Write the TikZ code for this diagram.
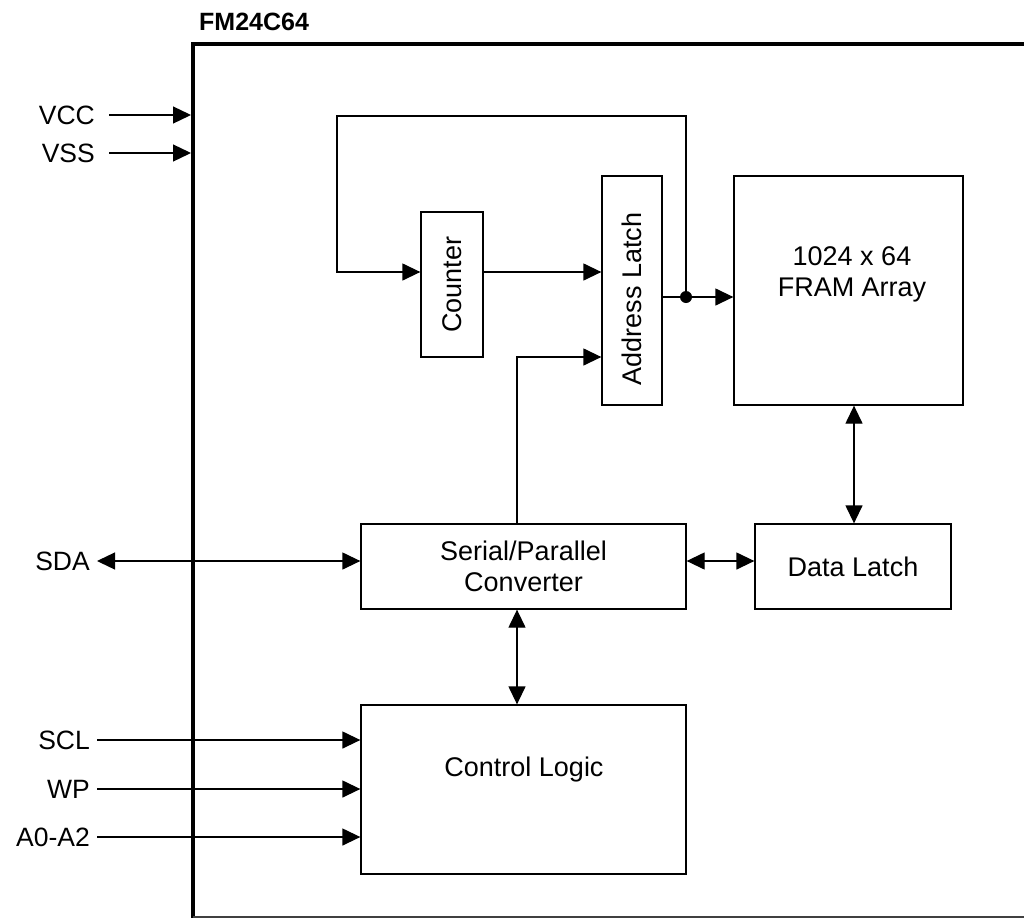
\documentclass[tikz,border=0pt]{standalone}
\usepackage{fontspec}
\setmainfont{Liberation Sans}
\usetikzlibrary{arrows.meta,calc}
\tikzset{
  >={Triangle[length=18pt,width=17pt]},
  blk/.style={draw,line width=1.3pt,inner sep=0pt,font=\fontsize{27}{31}\selectfont,align=center},
  txt/.style={inner sep=0pt,font=\fontsize{27}{31}\selectfont,align=center},
  sig/.style={anchor=east,inner ysep=0pt,inner xsep=7pt,font=\fontsize{26.5}{31}\selectfont},
  wire/.style={line width=1.3pt},
  chipedge/.style={line width=4.2pt}
}

\begin{document}
\begin{tikzpicture}[x=1pt,y=-1pt]
  \useasboundingbox (0,0) rectangle (1024,918);

  % ================= chip outline =================
  \draw[chipedge] (1024,44) -- (193,44) -- (193,918);
  \draw[line width=1.3pt,black!75] (193,917) -- (1024,917);
  \node[txt,anchor=west,font=\fontsize{25}{30}\selectfont\bfseries] (chip) at (199,22) {FM24C64};

  % ================= blocks =================
  \node[blk,minimum width=62pt,minimum height=145pt] (CNT) at (452,284.5) {};
  \node[txt,rotate=90] (CNTtxt) at (CNT) {Counter};
  \node[blk,minimum width=60pt,minimum height=229pt] (AL) at (632,290.5) {};
  \node[txt,rotate=90] (ALtxt) at (632,299) {Address Latch};
  \node[blk,minimum width=229pt,minimum height=229pt] (FRAM) at (848.5,290.5) {};
  \node[txt] (FRAMtxt) at (852,274) {1024 x 64\\FRAM Array};
  \node[blk,minimum width=325pt,minimum height=85pt] (SP) at (523.5,566.5) {Serial/Parallel\\Converter};
  \node[blk,minimum width=196pt,minimum height=85pt] (DL) at (853,566.5) {Data Latch};
  \node[blk,minimum width=325pt,minimum height=169pt] (CL) at (523.5,789.5) {};
  \node[txt] (CLtxt) at (524,770) {Control Logic};

  % ================= pins =================
  \node[sig,inner xsep=14pt] (VCC) at (109,115) {VCC};
  \node[sig,inner xsep=14pt] (VSS) at (109,153) {VSS};
  \coordinate (vccpad) at (191,115);
  \coordinate (vsspad) at (191,153);
  \draw[wire,->] (VCC.east) -- (vccpad);
  \draw[wire,->] (VSS.east) -- (vsspad);

  \node[sig] (SDA) at (97,561) {SDA};
  \draw[wire,<->] (SDA.east) -- (SP.west |- SDA.east);

  \foreach \p/\t/\y in {SCL/SCL/740,WP/WP/789,A0A2/A0-A2/837}{
    \node[sig] (\p) at (97,\y) {\t};
    \draw[wire,->] (\p.east) -- (CL.west |- \p.east);
  }

  % ================= internal buses =================
  \coordinate (tap) at (686,297);
  \coordinate (loop) at (337,116);
  \coordinate (cy) at (0,272);
  \coordinate (ay) at (0,357);
  \coordinate (dy) at (0,561);
  \coordinate (busx) at (517,0);
  \coordinate (dlx) at (854,0);
  \coordinate (cin) at (CNT.west |- cy);

  % address path, with feedback to the counter
  \draw[wire] (AL.east |- tap) -- (tap);
  \draw[wire,->] (tap) -- (FRAM.west |- tap);
  \draw[wire,->] (tap) |- (loop) |- (cin);
  \fill (tap) circle (6);
  \draw[wire,->] (CNT.east |- cy) -- (AL.west |- cy);
  \draw[wire,->] (SP.north -| busx) |- (AL.west |- ay);

  % data path
  \draw[wire,<->] (SP.south -| busx) -- (CL.north -| busx);
  \draw[wire,<->] (SP.east |- dy) -- (DL.west |- dy);
  \draw[wire,<->] (FRAM.south -| dlx) -- (DL.north -| dlx);
\end{tikzpicture}
\end{document}
